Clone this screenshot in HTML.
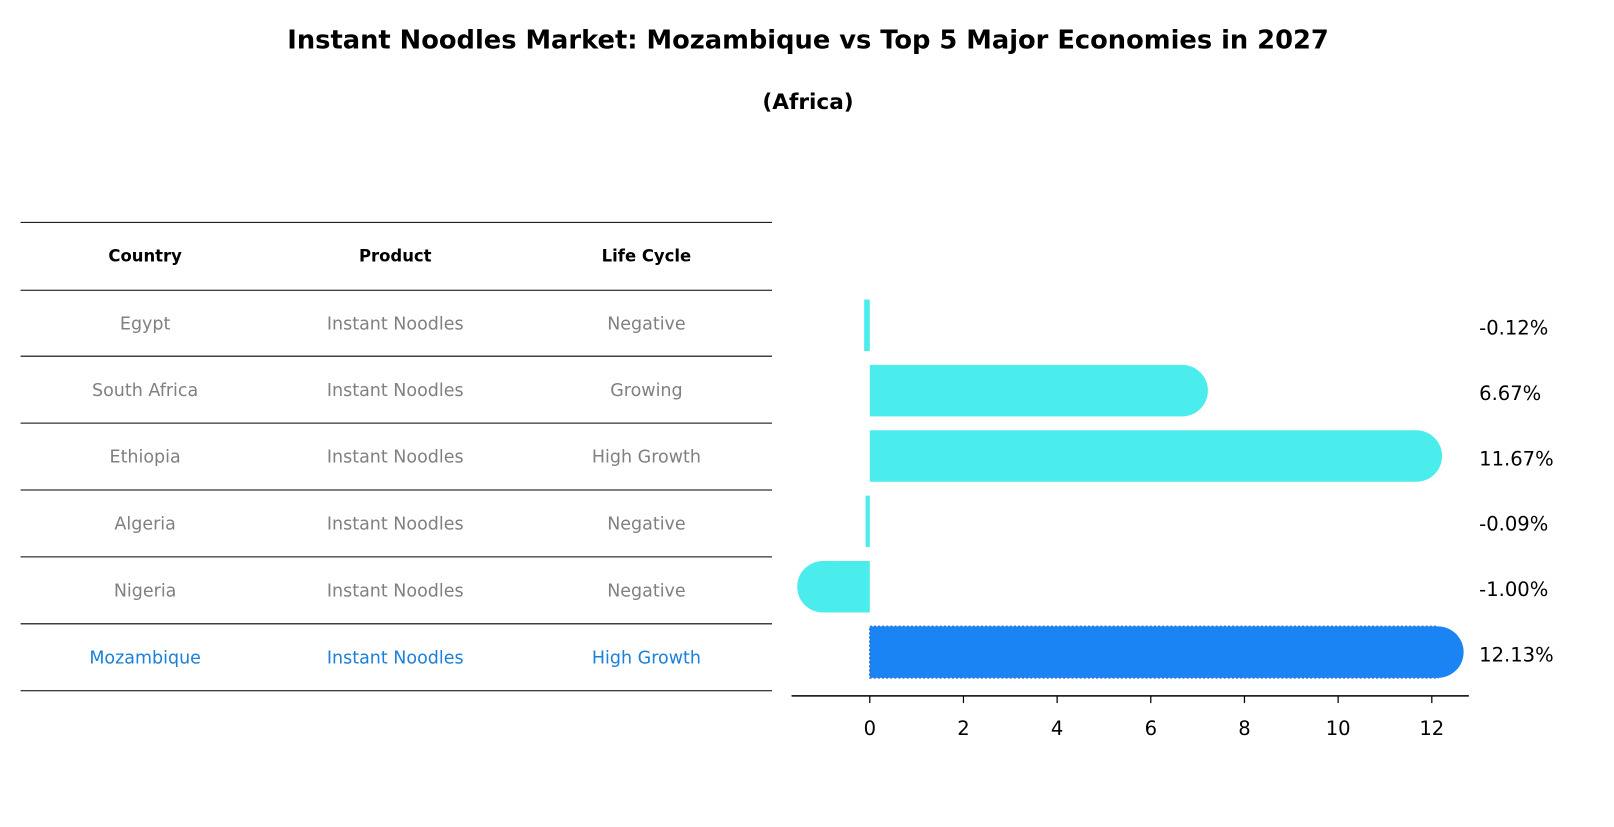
<!DOCTYPE html>
<html><head><meta charset="utf-8"><style>
body{margin:0;width:1614px;height:823px;background:#fff;font-family:"DejaVu Sans","Liberation Sans",sans-serif;overflow:hidden}
</style></head><body>
<svg width="1614" height="823" viewBox="0 0 1568 799.5" font-family="DejaVu Sans, Liberation Sans, sans-serif">
<text x="785" y="47" text-anchor="middle" font-size="25" font-weight="bold">Instant Noodles Market: Mozambique vs Top 5 Major Economies in 2027</text>
<text x="785" y="106" text-anchor="middle" font-size="21" font-weight="bold">(Africa)</text>
<g id="table"></g>
<g id="bars"></g>
</svg>
<script>
const countries=["Egypt","South Africa","Ethiopia","Algeria","Nigeria","Mozambique"];
const products=["Instant Noodles","Instant Noodles","Instant Noodles","Instant Noodles","Instant Noodles","Instant Noodles"];
const lifeCycles=["Negative","Growing","High Growth","Negative","Negative","High Growth"];
const growth=[-0.12,6.67,11.67,-0.09,-1.00,12.13];
const ticks=[0,2,4,6,8,10,12];
const NS="http://www.w3.org/2000/svg";
function mk(t,a,p){const e=document.createElementNS(NS,t);for(const k in a)e.setAttribute(k,a[k]);p.appendChild(e);return e;}
const tbl=document.getElementById('table');
const lineY=[216,282,346,411,476,541,606,671];
lineY.forEach(y=>{const l=mk('line',{x1:20,x2:750,y1:y,y2:y,stroke:'#000','stroke-width':1},tbl);

});
const colX=[141,384,628];
["Country","Product","Life Cycle"].forEach((h,i)=>{const t=mk('text',{x:colX[i],y:254,'text-anchor':'middle','font-size':16,'font-weight':'bold'},tbl);t.textContent=h;

});
countries.forEach((c,r)=>{const y=(lineY[r+1]+lineY[r+2])/2+6;const col=r===countries.length-1?'#1a80d8':'#808080';
[c,products[r],lifeCycles[r]].forEach((v,i)=>{const t=mk('text',{x:colX[i],y:y,'text-anchor':'middle','font-size':17,fill:col},tbl);t.textContent=v;

});});
const g=document.getElementById('bars');
const x0=845,ppu=45.5;const X=v=>x0+v*ppu;
const rowY=i=>316+i*63.5;const bh=50,rad=25;
growth.forEach((v,i)=>{const last=i===growth.length-1;const col=last?'#1a84f4':'#4aecec';const cy=rowY(i);
const x1=Math.min(X(0),X(v)),w=Math.abs(X(v)-X(0));
const r=mk('rect',{x:x1,y:cy-bh/2,width:Math.max(w,1),height:bh,fill:col},g);
if(last){r.setAttribute('stroke','#3070d0');r.setAttribute('stroke-dasharray','2 2');r.setAttribute('stroke-width','1.5');}


if(Math.abs(v)>0.5){const c=mk('circle',{cx:X(v),cy:cy,r:rad,fill:col},g);

}
const t=mk('text',{x:1437,y:cy+9,'font-size':19},g);t.textContent=v.toFixed(2)+'%';

});
const ax=mk('line',{x1:769,x2:1427,y1:676,y2:676,stroke:'#000','stroke-width':1.5},g);


ticks.forEach(v=>{const l=mk('line',{x1:X(v),x2:X(v),y1:676,y2:683,stroke:'#000','stroke-width':1.2},g);


const t=mk('text',{x:X(v),y:714,'text-anchor':'middle','font-size':19},g);t.textContent=v;

});
</script>
</body></html>
